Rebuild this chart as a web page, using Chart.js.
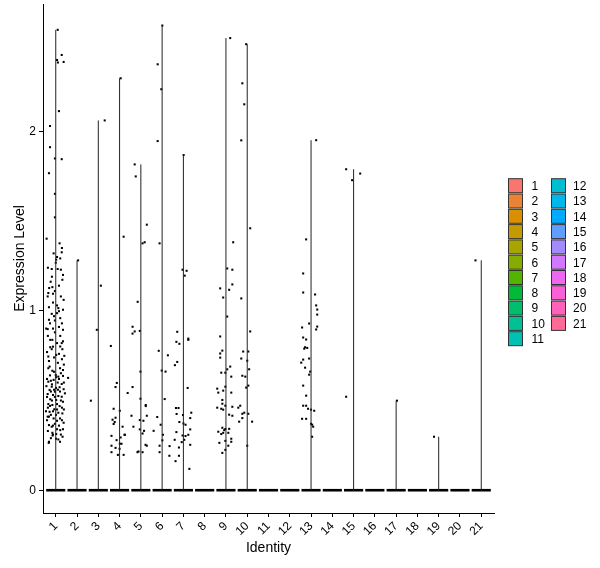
<!DOCTYPE html>
<html>
<head>
<meta charset="utf-8">
<script src="https://cdn.jsdelivr.net/npm/chart.js@4.4.1/dist/chart.umd.min.js"></script>
<style>
  html, body { margin: 0; padding: 0; background: #fff; }
  #wrap { position: relative; width: 600px; height: 568px; }
</style>
</head>
<body>
<div id="wrap"><canvas id="chart" width="600" height="568"></canvas></div>
<script>
// Identities (x categories) and y ticks
const identities = ['1','2','3','4','5','6','7','8','9','10','11','12','13','14','15','16','17','18','19','20','21'];
const yTicks = [0, 1, 2];

// Non-zero cells per identity: [jitter offset, expression]. Zero cells sit on the band at 0.
const cluster1 = [[0.09,2.566],[0.28,2.426],[0.06,2.398],[0.10,2.384],[0.37,2.387],[0.15,2.113],[-0.27,2.030],[-0.27,1.912],[-0.04,1.849],[0.28,1.845],[-0.32,1.767],[-0.04,1.652],[-0.04,1.521],[-0.43,1.402],[0.18,1.376],[0.28,1.326],[-0.10,1.320],[0.21,1.292],[0.00,1.268],[-0.19,1.233],[0.09,1.233],[0.02,1.285],[0.24,1.229],[-0.24,1.162],[0.31,1.173],[-0.31,1.127],[-0.16,1.132],[-0.35,1.099],[-0.13,1.095],[-0.38,1.080],[0.37,1.061],[-0.13,1.046],[0.12,1.015],[0.15,0.998],[0.34,1.006],[0.06,0.987],[-0.19,0.983],[-0.32,0.950],[-0.04,0.946],[0.21,0.959],[-0.45,0.901],[-0.38,0.898],[-0.13,0.901],[0.34,0.894],[-0.26,0.838],[-0.16,0.838],[0.21,0.860],[0.28,0.820],[-0.26,0.797],[-0.19,0.786],[0.31,0.786],[0.21,0.801],[0.15,0.760],[0.40,0.749],[-0.35,0.745],[0.02,0.754],[-0.29,0.689],[-0.35,0.680],[-0.16,0.666],[0.00,0.642],[0.12,0.633],[0.24,0.652],[0.34,0.637],[0.58,0.626],[-0.10,0.615],[-0.35,0.605],[0.09,0.600],[0.28,0.592],[-0.19,0.577],[0.18,0.574],[0.37,0.563],[-0.29,0.559],[-0.04,0.549],[-0.38,0.536],[-0.13,0.531],[0.12,0.525],[0.28,0.521],[-0.26,0.507],[0.02,0.503],[0.34,0.493],[-0.35,0.480],[-0.16,0.475],[0.18,0.469],[-0.07,0.451],[-0.29,0.437],[0.12,0.432],[0.31,0.428],[-0.38,0.410],[-0.10,0.400],[0.06,0.387],[0.37,0.376],[-0.32,0.363],[-0.19,0.354],[0.21,0.335],[0.02,0.313],[-0.16,0.320],[-0.32,0.270],[0.12,0.283],[-0.33,0.264],[0.01,0.287],[-0.15,0.305],[0.32,0.298],
  [-0.41,0.62],[-0.27,0.64],[-0.08,0.66],[0.20,0.68],[0.38,0.70],[-0.44,0.58],[-0.23,0.55],[0.01,0.57],[0.20,0.55],[0.38,0.60],[-0.41,0.52],[-0.18,0.50],[0.06,0.48],[0.29,0.46],[-0.37,0.46],[-0.13,0.44],[0.01,0.42],[0.20,0.40],[0.38,0.45],[-0.41,0.39],[-0.23,0.42],[-0.04,0.37],[0.15,0.36],[0.34,0.34],[-0.37,0.33],[-0.13,0.31],[0.06,0.34],[0.24,0.31],[-0.27,0.47],[-0.04,0.52],[0.24,0.50],[0.10,0.56],[-0.18,0.59],[0.43,0.54],[-0.32,0.72],[-0.08,0.74],[0.10,0.71],[0.29,0.73],[-0.41,0.77],[-0.13,0.80],[0.06,0.82],[0.34,0.83],[-0.37,0.86],[-0.04,0.88],[0.15,0.91],[0.29,0.93],[-0.27,0.93],[-0.08,0.97],[0.06,1.03],[0.24,1.08],[-0.32,1.02],[-0.04,1.11],[0.15,1.14],[0.34,1.20],[-0.18,1.19],[-0.37,1.24],[0.06,1.30],[0.29,1.35],[-0.23,0.61],[0.01,0.63],[0.34,0.67],[-0.46,0.44],[-0.08,0.56],[0.15,0.62],[-0.32,0.41],[0.29,0.39],[0.06,0.45],[-0.13,0.36],[-0.23,0.29],[0.20,0.27]];
const cluster2 = [[0.05,1.281]];
const cluster3 = [[0.30,2.061],[0.12,1.140],[-0.07,0.894],[-0.35,0.499]];
const cluster4 = [[0.05,2.296],[0.19,1.413],[-0.41,0.804],[-0.13,0.598],[-0.19,0.575],[0.38,0.542],[-0.28,0.454],[0.01,0.443],[-0.33,0.393],[-0.19,0.404],[-0.23,0.380],[-0.28,0.369],[0.14,0.354],[-0.38,0.303],[0.23,0.309],[0.25,0.309],[-0.14,0.279],[0.05,0.294],[0.01,0.259],[0.09,0.259],[-0.38,0.248],[-0.19,0.236],[0.00,0.231],[-0.38,0.212],[-0.08,0.197],[0.19,0.197]];
const cluster5 = [[-0.29,1.816],[-0.24,1.749],[0.28,1.480],[0.08,1.376],[0.18,1.382],[-0.15,1.050],[-0.39,0.911],[-0.29,0.885],[-0.39,0.873],[-0.05,0.888],[-0.02,0.661],[-0.39,0.575],[-0.02,0.510],[0.23,0.475],[0.23,0.469],[-0.44,0.415],[-0.05,0.391],[0.12,0.387],[0.28,0.415],[-0.35,0.354],[-0.05,0.339],[0.15,0.331],[0.08,0.316],[0.22,0.253],[0.28,0.248],[-0.11,0.216],[-0.16,0.212],[0.08,0.212]];
const cluster6 = [[0.01,2.590],[-0.21,2.374],[-0.04,2.235],[-0.21,1.946],[-0.12,1.376],[-0.16,0.777],[0.27,0.752],[-0.02,0.667],[0.16,0.661],[0.12,0.508],[-0.23,0.408],[-0.07,0.365],[-0.40,0.331],[0.04,0.309],[0.01,0.278],[-0.12,0.248],[0.35,0.246],[-0.12,0.212],[0.34,0.192]];
const cluster7 = [[0.01,1.868],[-0.04,1.229],[0.15,1.223],[0.06,1.196],[-0.29,0.883],[-0.33,0.827],[-0.19,0.816],[0.23,0.845],[0.23,0.838],[-0.29,0.715],[-0.40,0.697],[0.20,0.570],[-0.35,0.458],[-0.23,0.458],[-0.32,0.425],[0.37,0.432],[-0.02,0.419],[0.32,0.402],[-0.19,0.380],[0.00,0.372],[0.10,0.365],[0.32,0.339],[-0.33,0.324],[-0.04,0.305],[0.10,0.302],[0.23,0.309],[-0.41,0.281],[0.04,0.281],[-0.08,0.268],[0.32,0.253],[-0.21,0.238],[-0.21,0.192],[-0.37,0.162],[0.28,0.119]];
const cluster8 = [];
const cluster9 = [[0.20,2.520],[0.34,1.382],[0.06,1.236],[0.30,1.229],[0.30,1.147],[-0.27,1.125],[0.15,1.117],[-0.13,1.074],[0.06,0.968],[-0.27,0.857],[-0.17,0.778],[-0.27,0.762],[-0.27,0.739],[0.20,0.689],[0.06,0.674],[-0.03,0.655],[-0.22,0.655],[0.25,0.633],[-0.03,0.577],[-0.41,0.566],[-0.13,0.555],[-0.36,0.544],[0.25,0.544],[-0.17,0.503],[-0.17,0.482],[-0.03,0.471],[-0.41,0.460],[-0.22,0.454],[-0.13,0.449],[0.30,0.465],[0.15,0.421],[0.30,0.415],[-0.17,0.348],[-0.08,0.335],[-0.03,0.341],[0.15,0.342],[-0.36,0.326],[-0.13,0.320],[0.11,0.320],[-0.22,0.313],[0.25,0.287],[0.25,0.270],[-0.03,0.275],[-0.31,0.264],[0.11,0.248],[-0.03,0.225],[-0.17,0.208]];
const cluster10 = [[-0.05,2.486],[-0.23,2.268],[-0.14,2.151],[-0.28,1.950],[0.14,1.460],[-0.28,1.069],[0.14,0.885],[-0.19,0.773],[0.05,0.773],[-0.28,0.734],[0.00,0.722],[0.09,0.674],[-0.23,0.638],[-0.09,0.633],[0.05,0.583],[-0.05,0.572],[-0.42,0.460],[-0.33,0.471],[-0.14,0.432],[-0.23,0.426],[0.05,0.426],[-0.23,0.402],[-0.38,0.382],[0.23,0.382],[0.00,0.248]];
const cluster11 = [];
const cluster12 = [];
const cluster13 = [[0.24,1.951],[-0.23,1.398],[-0.37,1.208],[-0.37,1.102],[0.19,1.091],[0.24,1.030],[0.29,1.007],[0.29,0.979],[-0.09,0.929],[-0.42,0.907],[0.29,0.912],[0.24,0.896],[-0.37,0.851],[-0.23,0.840],[-0.28,0.797],[-0.18,0.793],[-0.32,0.789],[-0.37,0.728],[-0.09,0.734],[-0.46,0.711],[-0.28,0.683],[-0.04,0.661],[-0.09,0.644],[-0.37,0.583],[-0.23,0.527],[-0.37,0.471],[-0.23,0.471],[-0.14,0.454],[0.00,0.449],[0.15,0.443],[-0.42,0.398],[-0.23,0.398],[0.00,0.370],[0.05,0.365],[0.10,0.354],[0.05,0.298]];
const cluster14 = [];
const cluster15 = [[-0.35,1.789],[-0.07,1.728],[0.31,1.765],[-0.35,0.521]];
const cluster16 = [];
const cluster17 = [[0.04,0.499]];
const cluster18 = [];
const cluster19 = [[-0.22,0.298]];
const cluster20 = [];
const cluster21 = [[-0.27,1.281]];

const clusters = [cluster1, cluster2, cluster3, cluster4, cluster5, cluster6, cluster7, cluster8, cluster9, cluster10,
  cluster11, cluster12, cluster13, cluster14, cluster15, cluster16, cluster17, cluster18, cluster19, cluster20, cluster21];

// ggplot2 default hue palette
function hcl(h, c, l){
  const hr = h * Math.PI / 180;
  const U = c * Math.cos(hr), V = c * Math.sin(hr);
  const Xn = 95.047, Yn = 100, Zn = 108.883;
  const Y = l > 7.999592 ? Yn * Math.pow((l + 16) / 116, 3) : Yn * l / 903.3;
  const d = Xn + 15 * Yn + 3 * Zn;
  const u = U / (13 * l) + 4 * Xn / d, v = V / (13 * l) + 9 * Yn / d;
  const X = 9 * Y * u / (4 * v);
  const Z = -X / 3 - 5 * Y + 3 * Y / v;
  const lin = [3.240479*X - 1.537150*Y - 0.498535*Z, -0.969256*X + 1.875992*Y + 0.041556*Z, 0.055648*X - 0.204043*Y + 1.057311*Z];
  return '#' + lin.map(x => {
    x /= 100;
    x = x > 0.00304 ? 1.055 * Math.pow(x, 1 / 2.4) - 0.055 : 12.92 * x;
    x = Math.max(0, Math.min(1, x));
    return Math.round(x * 255).toString(16).padStart(2, '0');
  }).join('');
}
const colors = identities.map((_, i) => hcl(15 + i * 360 / identities.length, 100, 65));

const HALF = 0.45;
const datasets = [];
clusters.forEach((pts, i) => {
  const k = i + 1;
  const top = pts.reduce((m, p) => Math.max(m, p[1]), 0);
  // violin body: collapses to a thin stem above the zero mass
  datasets.push({
    type: 'line', data: [{x: k, y: 0}, {x: k, y: top}],
    borderColor: '#222', borderWidth: 1, pointRadius: 0, fill: false
  });
  // violin base / zero cells
  datasets.push({
    type: 'line', data: [{x: k - HALF, y: 0}, {x: k + HALF, y: 0}],
    borderColor: '#000', borderWidth: 2.6, pointRadius: 0, fill: false, borderCapStyle: 'butt'
  });
});
datasets.push({
  type: 'scatter',
  data: clusters.flatMap((pts, i) => pts.map(p => ({x: i + 1 + p[0], y: p[1]}))),
  backgroundColor: '#000', borderWidth: 0, pointStyle: 'rect', pointRadius: 1.45
});

const FONT = 'Liberation Sans, Arial, sans-serif';

const legendPlugin = {
  id: 'idLegend',
  afterDraw(chart){
    const ctx = chart.ctx;
    ctx.save();
    ctx.font = '12px ' + FONT;
    ctx.textBaseline = 'middle';
    identities.forEach((lab, i) => {
      const col = i < 11 ? 0 : 1;
      const row = col ? i - 11 : i;
      const bx = col ? 551.5 : 508.5;
      const cy = 185.7 + row * 15.3;
      ctx.fillStyle = colors[i];
      ctx.fillRect(bx, cy - 7, 14, 14);
      ctx.strokeStyle = '#333';
      ctx.lineWidth = 1;
      ctx.strokeRect(bx, cy - 7, 14, 14);
      ctx.fillStyle = '#000';
      ctx.fillText(lab, col ? 573 : 531.5, cy + 1);
    });
    ctx.restore();
  }
};

new Chart(document.getElementById('chart'), {
  type: 'scatter',
  data: { datasets },
  plugins: [legendPlugin],
  options: {
    responsive: false,
    animation: false,
    devicePixelRatio: 1,
    layout: { padding: { left: 8, right: 106, top: 4, bottom: 7 } },
    plugins: { legend: { display: false }, tooltip: { enabled: false } },
    scales: {
      x: {
        type: 'linear', min: 0.4, max: 21.6,
        afterBuildTicks: s => { s.ticks = identities.map((_, i) => ({value: i + 1})); },
        afterFit: s => { s.height = 48; s.paddingLeft = 0; s.paddingRight = 0; },
        grid: { drawOnChartArea: false, drawTicks: true, tickLength: 4, color: '#000' },
        border: { display: true, color: '#000', width: 1 },
        ticks: { autoSkip: false, maxRotation: 45, minRotation: 45, color: '#000', padding: 2,
          font: { family: FONT, size: 12 }, callback: v => identities[v - 1] },
        title: { display: true, text: 'Identity', color: '#000', font: { family: FONT, size: 14 } }
      },
      y: {
        type: 'linear', min: -0.127, max: 2.71,
        afterBuildTicks: s => { s.ticks = yTicks.map(v => ({value: v})); },
        afterFit: s => { s.width = 35; s.paddingTop = 0; s.paddingBottom = 0; },
        grid: { drawOnChartArea: false, drawTicks: true, tickLength: 4, color: '#000' },
        border: { display: true, color: '#000', width: 1 },
        ticks: { color: '#000', padding: 3, font: { family: FONT, size: 12 } },
        title: { display: true, text: 'Expression Level', color: '#000', font: { family: FONT, size: 14 } }
      }
    }
  }
});
</script>
</body>
</html>
